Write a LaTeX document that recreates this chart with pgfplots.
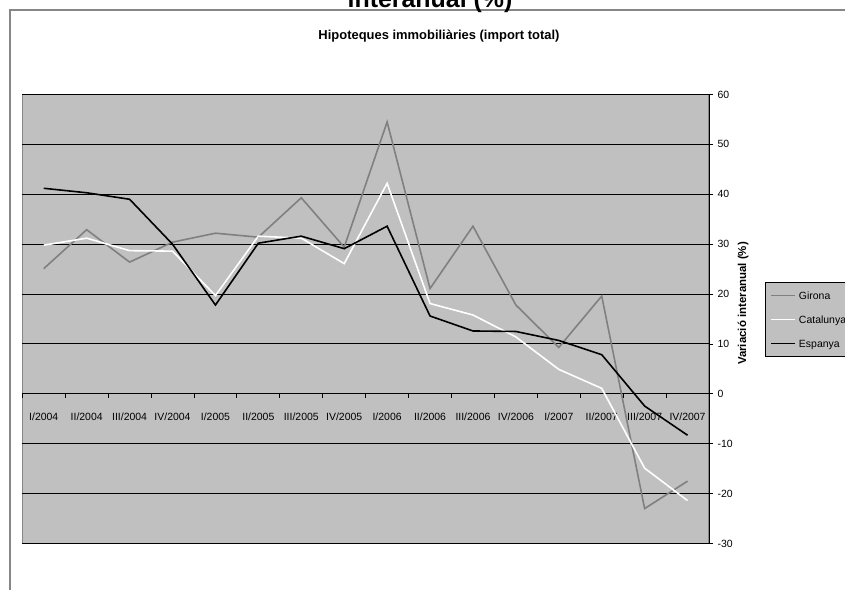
\documentclass[border=0pt]{standalone}
\usepackage{fontspec}
\setmainfont{Liberation Sans}
\usepackage{pgfplots}
\pgfplotsset{compat=1.18}
\definecolor{plotbg}{HTML}{C0C0C0}
\definecolor{gironagray}{HTML}{808080}
\definecolor{framegray}{HTML}{868686}

\pgfplotstableread{
x girona catalunya espanya
0  25.1  29.8  41.2
1  32.9  31.2  40.3
2  26.4  28.7  39.0
3  30.4  28.6  30.0
4  32.2  19.7  17.8
5  31.4  31.6  30.2
6  39.3  31.2  31.6
7  29.4  26.1  29.1
8  54.5  42.2  33.6
9  21.1  18.1  15.6
10 33.6  15.8  12.6
11 17.8  11.4  12.5
12  9.3   4.9  10.7
13 19.6   1.1   7.85
14 -23.0 -14.9 -2.45
15 -17.5 -21.4 -8.3
}\datatable

\begin{document}
\begin{tikzpicture}[x=1bp,y=1bp]
\useasboundingbox (0,0) rectangle (845,590);
\draw[framegray, line width=1.3bp] (10,-5) -- (10,580) -- (870,580);
\node[font=\fontsize{25}{30}\selectfont\bfseries, anchor=base, inner sep=0pt] at (430,582) {interanual (\%)};
\node[font=\fontsize{13}{15}\selectfont\bfseries, anchor=base, inner sep=0pt] at (439,550.7) {Hipoteques immobiliàries (import total)};
\begin{axis}[
  at={(22.3bp,46.5bp)}, anchor=south west, scale only axis,
  width=686.7bp, height=449bp,
  xmin=-0.5, xmax=15.5, ymin=-30, ymax=60,
  axis x line=middle, axis y line=right,
  hide obscured x ticks=false,
  axis line style={-, black, line width=1bp},
  axis background/.style={fill=plotbg, draw=framegray, line width=1.2bp},
  xtick={-0.5,0.5,1.5,2.5,3.5,4.5,5.5,6.5,7.5,8.5,9.5,10.5,11.5,12.5,13.5,14.5,15.499},
  x tick label as interval,
  xticklabels={I/2004,II/2004,III/2004,IV/2004,I/2005,II/2005,III/2005,IV/2005,I/2006,II/2006,III/2006,IV/2006,I/2007,II/2007,III/2007,IV/2007},
  ytick={-30,-20,-10,0,10,20,30,40,50,60},
  ymajorgrids, major grid style={black, line width=0.9bp},
  tick align=outside,
  major tick length=4bp,
  tick style={black, line width=0.8bp},
  /pgf/number format/assume math mode=true,
  ticklabel style={font=\fontsize{10.5}{12}\selectfont},
  xticklabel style={anchor=base, yshift=-22.4bp},
  yticklabel style={anchor=west, xshift=1bp},
  ylabel={Variació interanual (\%)},
  every axis y label/.style={at={(axis description cs:1.0495,0.5345)}, anchor=center, rotate=90, font=\fontsize{11.5}{13}\selectfont\bfseries},
  legend style={at={(axis description cs:1.0815,0.5817)}, anchor=north west, fill=plotbg, draw=black, line width=0.8bp, font=\fontsize{10.5}{12}\selectfont, inner xsep=5bp, inner ysep=8.9bp, row sep=16.4bp, column sep=3bp, cells={anchor=west}, nodes={inner sep=0pt, text height=7.6bp, text depth=0pt}},
  legend image code/.code={\draw[#1] (0bp,0bp) -- (24bp,0bp);},
]
\addplot[gironagray, line width=1.6bp] table[x=x, y=girona] {\datatable};
\addlegendentry{Girona}
\addplot[white, line width=1.6bp] table[x=x, y=catalunya] {\datatable};
\addlegendentry{Catalunya}
\addplot[black, line width=1.6bp] table[x=x, y=espanya] {\datatable};
\addlegendentry{Espanya}
\end{axis}
\end{tikzpicture}
\end{document}
